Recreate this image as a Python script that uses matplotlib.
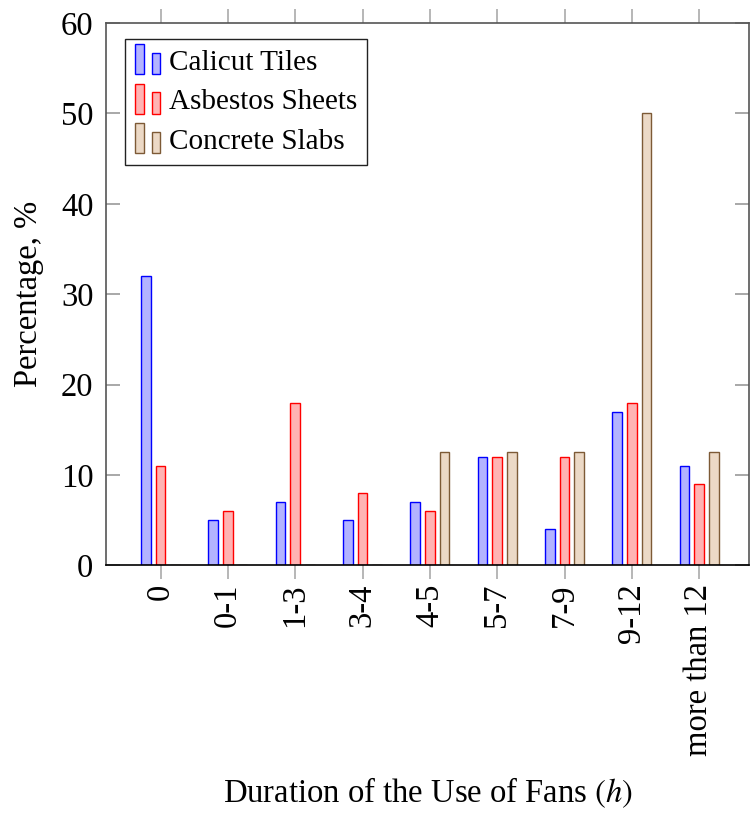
import numpy as np
import matplotlib
matplotlib.use("Agg")
import matplotlib.pyplot as plt
from matplotlib.patches import Rectangle
from matplotlib.legend_handler import HandlerBase

plt.rcParams['font.family'] = ['Liberation Serif', 'DejaVu Serif']
plt.rcParams['mathtext.fontset'] = 'stix'

categories = ['0', '0-1', '1-3', '3-4', '4-5', '5-7', '7-9', '9-12', 'more than 12']
calicut = [32, 5, 7, 5, 7, 12, 4, 17, 11]
asbestos = [11, 6, 18, 8, 6, 12, 12, 18, 9]
concrete = [0, 0, 0, 0, 12.5, 12.5, 12.5, 50, 12.5]
series_names = ['Calicut Tiles', 'Asbestos Sheets', 'Concrete Slabs']

fills = ['#b3b3ff', '#ffb3b3', '#ecd9c6']
edges = ['#0000ff', '#ff0000', '#7d5a36']
fs = 23.5
legend_fs = 21


# pgfplots-style ybar legend image: two small bars side by side
class TwoBarHandler(HandlerBase):
    def create_artists(self, legend, orig, xdescent, ydescent, width, height, fontsize, trans):
        fc = orig.get_facecolor()
        ec = orig.get_edgecolor()
        w = width * 0.33
        r1 = Rectangle((-xdescent, -ydescent - 0.2 * height), w, height * 1.45,
                       facecolor=fc, edgecolor=ec, lw=1, transform=trans)
        r2 = Rectangle((-xdescent + width * 0.67, -ydescent - 0.2 * height), w, height * 1.05,
                       facecolor=fc, edgecolor=ec, lw=1, transform=trans)
        return [r1, r2]


fig = plt.figure(figsize=(7.5, 8.14), dpi=100)
ax = fig.add_axes([0.1413, 0.3053, 0.8574, 0.6664])

x = np.arange(len(categories))
bw = 0.141
off = 0.218
handles = []
for i, vals in enumerate([calicut, asbestos, concrete]):
    b = ax.bar(x + (i - 1) * off, vals, width=bw, color=fills[i], edgecolor=edges[i],
               linewidth=1.0, label=series_names[i], zorder=2)
    handles.append(b.patches[0])

ax.set_xlim(-0.81, 8.74)
ax.set_ylim(0, 60)
ax.set_yticks([0, 10, 20, 30, 40, 50, 60])
ax.set_xticks(x)
ax.set_xticklabels(categories, rotation=90, fontsize=fs)
ax.tick_params(axis='y', labelsize=fs, direction='in', length=10, color='#999999',
               right=True, width=1.2, pad=9)
ax.tick_params(axis='x', direction='out', length=10, color='#aaaaaa', top=True,
               width=1.2, pad=3)

for s in ['top', 'left', 'right']:
    ax.spines[s].set_color('#555555')
ax.spines['bottom'].set_color('black')
for s in ax.spines.values():
    s.set_linewidth(1.2)

ax.set_ylabel('Percentage, %', fontsize=fs, labelpad=12)
ax.set_xlabel('Duration of the Use of Fans $(h)$', fontsize=fs)
ax.xaxis.set_label_coords(0.5, -0.388)

leg = ax.legend(handles=handles, labels=series_names, loc='upper left',
                bbox_to_anchor=(0.03, 0.97), fontsize=legend_fs, frameon=True, fancybox=False,
                handler_map={Rectangle: TwoBarHandler()}, handlelength=0.85,
                handletextpad=0.3, labelspacing=0.45, borderpad=0.35, borderaxespad=0)
leg.get_frame().set_edgecolor('#222222')
leg.get_frame().set_linewidth(1.0)
leg.get_frame().set_alpha(1)

fig.savefig('out.png', dpi=100)
